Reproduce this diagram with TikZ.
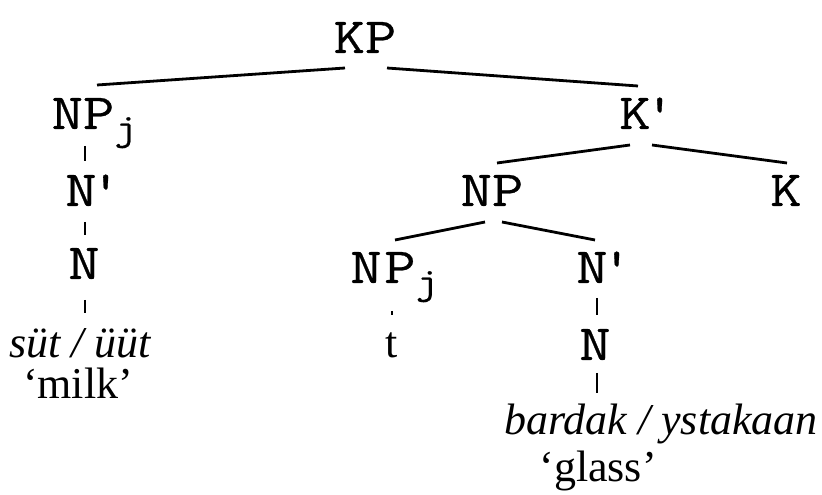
\documentclass[tikz,border=0pt]{standalone}
\usepackage{fontspec}
\setmainfont{Liberation Serif}
\newfontfamily\lblfont[FakeStretch=1.2,FakeBold=0.5]{Latin Modern Mono}
\tikzset{
  lbl/.style={font={\lblfont\fontsize{38}{46}\selectfont}, inner sep=0pt, anchor=base},
  wrd/.style={font={\itshape\fontsize{33}{40}\selectfont}, inner sep=0pt, anchor=base},
  gls/.style={font={\fontsize{33}{40}\selectfont}, inner sep=0pt, anchor=base},
  branch/.style={line width=2.1pt},
}
\newcommand{\subj}{\rlap{\kern0pt\lower8pt\hbox{\fontsize{28}{30}\selectfont j}}}
\newcommand{\prm}{\rlap{\kern-5pt '}}
\begin{document}
\begin{tikzpicture}[x=0.75pt,y=-0.75pt]
\useasboundingbox (0,0) rectangle (822,495);
% nodes
\node[lbl] (KP) at (365,53) {KP};
\node[lbl] (NPa) at (83,129) {NP\subj};
\node[lbl] (Kbar) at (635,129) {K\prm};
\node[lbl] (Nbara) at (81,206) {N\prm};
\node[lbl] (NP) at (492,206) {NP};
\node[lbl] (K) at (786,206) {K};
\node[lbl] (Na) at (84,279) {N};
\node[lbl] (NPb) at (383,283) {N\kern2pt P\subj};
\node[lbl] (Nbarb) at (592,283) {N\prm};
\node[gls] (t) at (392,358) {t};
\node[lbl] (Nb) at (595,360) {N};
\node[wrd] (wa) at (80,358) {süt / üüt};
\node[gls] (ga) at (78,399) {‘milk’};
\node[wrd] (wb) at (661,435) {bardak / ystakaan};
\node[gls] (gb) at (598,482) {‘glass’};
% branch end points
\coordinate (KP-l) at (345,68);   \coordinate (NPa-t) at (97,85);
\coordinate (KP-r) at (387,68);   \coordinate (Kbar-t) at (638,86);
\coordinate (Kbar-l) at (630,145); \coordinate (NP-t) at (497,163);
\coordinate (Kbar-r) at (652,145); \coordinate (K-t) at (787,163);
\coordinate (NP-l) at (485,222);  \coordinate (NPb-t) at (395,240);
\coordinate (NP-r) at (502,222);  \coordinate (Nbarb-t) at (595,240);
\coordinate (NPa-b) at (85,146);  \coordinate (Nbara-t) at (85,161);
\coordinate (Nbara-b) at (85,222); \coordinate (Na-t) at (85,235);
\coordinate (Na-b) at (85,300);   \coordinate (wa-t) at (85,313);
\coordinate (Nbarb-b) at (597,298); \coordinate (Nb-t) at (597,315);
\coordinate (Nb-b) at (597,373);  \coordinate (wb-t) at (597,393);
\coordinate (NPb-b) at (392,311); \coordinate (t-t) at (392,315);
% connectors
\draw[branch] (KP-l) -- (NPa-t);
\draw[branch] (KP-r) -- (Kbar-t);
\draw[branch] (Kbar-l) -- (NP-t);
\draw[branch] (Kbar-r) -- (K-t);
\draw[branch] (NP-l) -- (NPb-t);
\draw[branch] (NP-r) -- (Nbarb-t);
\draw[branch] (NPa-b) -- (Nbara-t);
\draw[branch] (Nbara-b) -- (Na-t);
\draw[branch] (Na-b) -- (wa-t);
\draw[branch] (Nbarb-b) -- (Nb-t);
\draw[branch] (Nb-b) -- (wb-t);
\draw[branch] (NPb-b) -- (t-t);
\end{tikzpicture}
\end{document}
